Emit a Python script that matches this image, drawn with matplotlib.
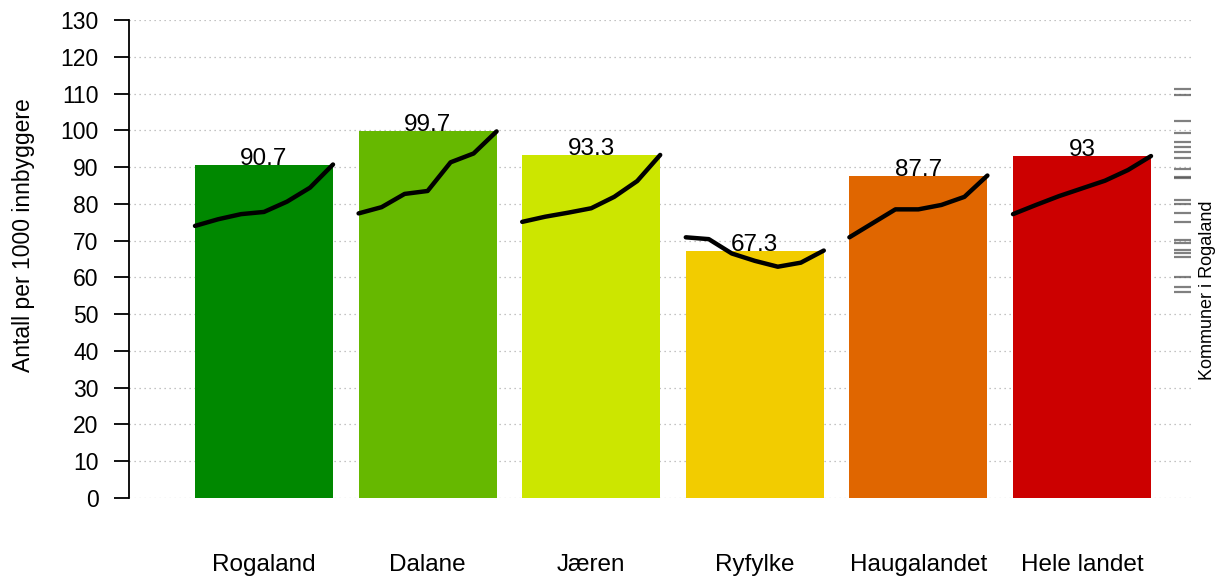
import matplotlib
matplotlib.use("Agg")
import matplotlib.pyplot as plt
import numpy as np

plt.rcParams['font.family'] = ['Liberation Sans', 'DejaVu Sans']

categories = ["Rogaland", "Dalane", "Jæren", "Ryfylke", "Haugalandet", "Hele landet"]
values = [90.7, 99.7, 93.3, 67.3, 87.7, 93.0]
value_labels = ["90.7", "99.7", "93.3", "67.3", "87.7", "93"]
colors = ["#008800", "#66b800", "#cce600", "#f2cc00", "#e06600", "#cc0000"]

trend_rogaland = [74.0, 75.8, 77.2, 77.8, 80.6, 84.4, 90.7]
trend_dalane = [77.4, 79.1, 82.7, 83.5, 91.3, 93.7, 99.7]
trend_jaeren = [75.1, 76.5, 77.6, 78.8, 81.9, 86.2, 93.3]
trend_ryfylke = [70.9, 70.4, 66.5, 64.5, 62.9, 64.0, 67.3]
trend_haugalandet = [70.9, 74.7, 78.5, 78.5, 79.7, 81.9, 87.7]
trend_hele_landet = [77.2, 79.7, 82.1, 84.2, 86.3, 89.2, 93.0]
trends = [trend_rogaland, trend_dalane, trend_jaeren, trend_ryfylke,
          trend_haugalandet, trend_hele_landet]

kommuner = [111.2, 109.6, 102.5, 99.3, 96.7, 95.5, 94.1, 92.5, 89.6, 87.4, 86.9,
            81.0, 80.0, 77.4, 75.1, 70.2, 69.3, 67.4, 66.5, 65.6, 60.0, 57.5, 55.9]

yticks = list(range(0, 131, 10))

W, H = 1223, 576
fig = plt.figure(figsize=(W / 100, H / 100), dpi=100)
ax_left, ax_right = 129, 1192
ax_top, ax_bot = 20, 498
ax = fig.add_axes([ax_left / W, 1 - ax_bot / H, (ax_right - ax_left) / W, (ax_bot - ax_top) / H])

spacing = 163.6
bw = 138 / spacing
x = np.arange(len(categories))
ax.set_xlim(-(264 - ax_left) / spacing, 5 + (ax_right - 1082) / spacing)
ax.set_ylim(0, 130)

for yv in yticks:
    ax.axhline(yv, color="#b0b0b0", linestyle=(0, (1, 3)), linewidth=0.9, zorder=0)

ax.bar(x, values, width=bw, color=colors, zorder=2)

for i, tr in enumerate(trends):
    xs = np.linspace(x[i] - bw / 2, x[i] + bw / 2, len(tr))
    ax.plot(xs, tr, color="black", linewidth=3.2, solid_capstyle="round",
            solid_joinstyle="round", zorder=3)
    ax.text(x[i], values[i], value_labels[i], ha="center", va="baseline",
            fontsize=17.5, zorder=4)

rx0 = 5 + (1174 - 1082) / spacing
rx1 = 5 + (1191 - 1082) / spacing
ax.hlines(kommuner, rx0, rx1, color="#555555", alpha=0.75, linewidth=1.6, zorder=3)

ax.text(1208 / W, 1 - 290 / H, "Kommuner i Rogaland", transform=fig.transFigure,
        rotation=90, ha="center", va="center", fontsize=13)

for s in ["top", "right", "bottom"]:
    ax.spines[s].set_visible(False)
ax.spines["left"].set_linewidth(1.3)
ax.set_yticks(yticks)
ax.tick_params(axis="y", length=11, width=1.3, pad=11, labelsize=16.5)
ax.set_xticks(x)
ax.set_xticklabels(categories, fontsize=17.5)
ax.tick_params(axis="x", length=0, pad=40)

fig.text(24 / W, 1 - 235 / H, "Antall per 1000 innbyggere", rotation=90,
         ha="center", va="center", fontsize=16.5)

fig.savefig("out.png", dpi=100)
